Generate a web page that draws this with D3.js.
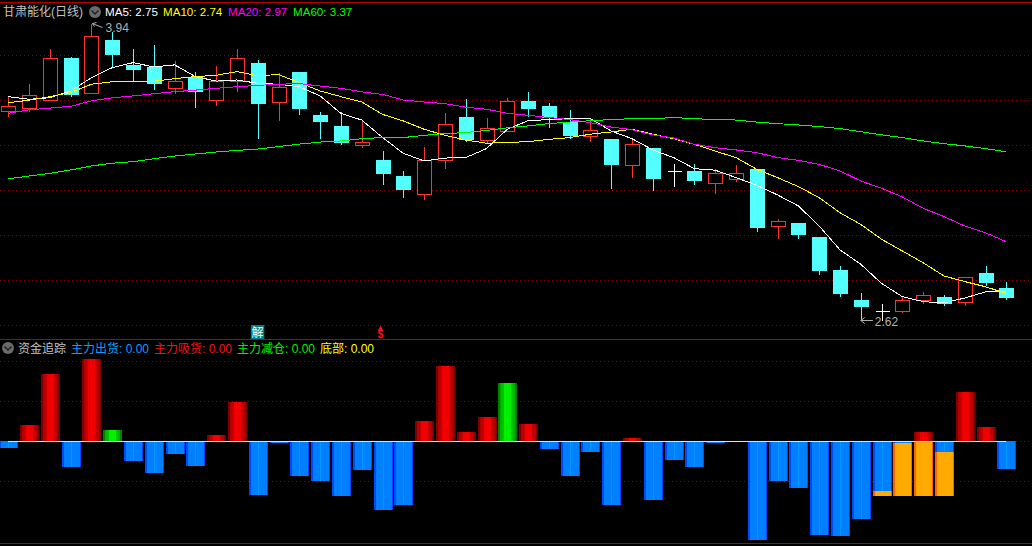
<!DOCTYPE html>
<html lang="zh">

<head>
    <meta charset="UTF-8" />
    <title>甘肃能化(日线)</title>
    <script src="https://d3js.org/d3.v7.min.js"></script>
    <style>
        html, body {
            margin: 0;
            padding: 0;
            background: #000;
            overflow: hidden;
        }

        svg {
            display: block;
        }

        text {
            font-family: "Liberation Sans", "Noto Sans CJK SC", sans-serif;
            font-size: 11.6px;
        }

        .cjk {
            font-size: 12px;
        }

        .grid line {
            stroke: #8c0000;
            stroke-dasharray: 1 3;
            shape-rendering: crispEdges;
        }

        .grid path {
            display: none;
        }

        .crisp {
            shape-rendering: crispEdges;
        }
    </style>
</head>

<body>
    <svg id="chart" width="1032" height="546"></svg>

    <script>
        // K-line
        const opens = [3.551, 3.561, 3.600, 3.785, 3.631, 3.864, 3.754, 3.745, 3.653, 3.702, 3.600, 3.681, 3.763, 3.591, 3.723, 3.532, 3.483, 3.400, 3.332, 3.261, 3.178, 3.329, 3.523, 3.422, 3.462, 3.594, 3.572, 3.501, 3.440, 3.425, 3.311, 3.385, 3.282, 3.283, 3.231, 3.248, 3.292, 3.040, 3.052, 2.990, 2.843, 2.710, 2.661, 2.658, 2.708, 2.723, 2.698, 2.830, 2.763];
        const closes = [3.572, 3.622, 3.784, 3.625, 3.881, 3.803, 3.736, 3.674, 3.681, 3.636, 3.681, 3.784, 3.585, 3.655, 3.563, 3.505, 3.410, 3.411, 3.274, 3.203, 3.332, 3.490, 3.425, 3.473, 3.593, 3.563, 3.523, 3.443, 3.464, 3.314, 3.402, 3.252, 3.282, 3.243, 3.273, 3.273, 3.034, 3.059, 3.003, 2.843, 2.741, 2.683, 2.661, 2.708, 2.730, 2.696, 2.810, 2.790, 2.723];
        const highs = [3.618, 3.670, 3.828, 3.793, 3.940, 3.904, 3.825, 3.843, 3.772, 3.723, 3.750, 3.828, 3.776, 3.719, 3.723, 3.545, 3.545, 3.507, 3.372, 3.283, 3.390, 3.541, 3.603, 3.519, 3.608, 3.634, 3.585, 3.554, 3.514, 3.425, 3.425, 3.385, 3.314, 3.314, 3.295, 3.310, 3.292, 3.070, 3.052, 2.990, 2.861, 2.741, 2.692, 2.726, 2.745, 2.732, 2.810, 2.861, 2.790];
        const lows = [3.524, 3.547, 3.600, 3.613, 3.631, 3.744, 3.681, 3.643, 3.625, 3.563, 3.572, 3.636, 3.425, 3.505, 3.532, 3.425, 3.401, 3.385, 3.221, 3.163, 3.156, 3.292, 3.413, 3.410, 3.462, 3.523, 3.474, 3.425, 3.412, 3.203, 3.252, 3.194, 3.212, 3.221, 3.181, 3.234, 3.012, 2.981, 2.981, 2.821, 2.723, 2.620, 2.620, 2.652, 2.692, 2.683, 2.683, 2.772, 2.710];

        // moving averages
        const ma5 = [3.615, 3.603, 3.610, 3.640, 3.699, 3.744, 3.766, 3.747, 3.756, 3.704, 3.684, 3.689, 3.674, 3.670, 3.659, 3.618, 3.540, 3.511, 3.433, 3.363, 3.329, 3.342, 3.344, 3.384, 3.470, 3.508, 3.513, 3.517, 3.517, 3.462, 3.428, 3.378, 3.344, 3.295, 3.288, 3.255, 3.221, 3.178, 3.129, 3.040, 2.934, 2.870, 2.785, 2.726, 2.704, 2.698, 2.720, 2.747, 2.750];
        const ma10 = [3.588, 3.599, 3.615, 3.633, 3.670, 3.681, 3.681, 3.683, 3.695, 3.704, 3.710, 3.726, 3.708, 3.713, 3.677, 3.640, 3.615, 3.591, 3.536, 3.507, 3.470, 3.443, 3.422, 3.408, 3.411, 3.415, 3.425, 3.433, 3.448, 3.458, 3.470, 3.448, 3.428, 3.403, 3.373, 3.344, 3.292, 3.255, 3.215, 3.166, 3.099, 3.047, 2.981, 2.929, 2.877, 2.818, 2.793, 2.770, 2.740];
        const ma20 = [3.541, 3.556, 3.564, 3.572, 3.596, 3.610, 3.618, 3.628, 3.637, 3.644, 3.652, 3.659, 3.665, 3.670, 3.673, 3.662, 3.652, 3.636, 3.625, 3.600, 3.591, 3.584, 3.568, 3.559, 3.541, 3.532, 3.522, 3.513, 3.499, 3.480, 3.468, 3.445, 3.431, 3.403, 3.388, 3.378, 3.366, 3.344, 3.332, 3.314, 3.285, 3.240, 3.208, 3.169, 3.119, 3.082, 3.040, 3.010, 2.970];
        const ma60 = [3.250, 3.262, 3.274, 3.289, 3.307, 3.319, 3.326, 3.339, 3.351, 3.360, 3.369, 3.376, 3.382, 3.393, 3.404, 3.413, 3.418, 3.428, 3.433, 3.433, 3.443, 3.451, 3.455, 3.465, 3.476, 3.485, 3.495, 3.502, 3.508, 3.513, 3.517, 3.517, 3.522, 3.517, 3.513, 3.511, 3.502, 3.495, 3.489, 3.482, 3.473, 3.459, 3.445, 3.433, 3.418, 3.406, 3.396, 3.384, 3.370];

        // 资金追踪 panel
        const outflow = [-0.167, 0, 0, -0.642, 0, 0, -0.492, -0.792, -0.317, -0.617, 0, 0, -1.342, -0.042, -0.867, -0.992, -1.367, -0.717, -1.717, -1.592, 0, 0, 0, 0, 0, 0, -0.192, -0.867, -0.267, -1.592, 0, -1.467, -0.467, -0.642, -0.042, 0, -2.467, -0.992, -1.167, -2.342, -2.367, -1.942, -1.242, -0.042, 0, -0.267, 0, 0, -0.692];
        const inflow = [0, 0.408, 1.683, 0, 2.058, 0, 0, 0, 0, 0, 0.158, 0.983, 0, 0, 0, 0, 0, 0, 0, 0, 0.508, 1.883, 0.233, 0.608, 0, 0.433, 0, 0, 0, 0, 0.083, 0, 0, 0, 0, 0, 0, 0, 0, 0, 0, 0, 0, 0, 0.233, 0, 1.233, 0.358, 0];
        const reduce = [0, 0, 0, 0, 0, 0.283, 0, 0, 0, 0, 0, 0, 0, 0, 0, 0, 0, 0, 0, 0, 0, 0, 0, 0, 1.458, 0, 0, 0, 0, 0, 0, 0, 0, 0, 0, 0, 0, 0, 0, 0, 0, 0, 0, 0, 0, 0, 0, 0, 0];
        const bottomIdx = [42, 43, 44, 45];
        const bottomVal = -1.367;

        const priceTicks = [3.8, 3.6, 3.4, 3.2, 3.0, 2.8, 2.6];
        const flowTicks = [2, 1, 0, -1];

        const maLegend = [
            { label: "MA5: 2.75", color: "#ffffff", x: 105 },
            { label: "MA10: 2.74", color: "#ffff00", x: 163 },
            { label: "MA20: 2.97", color: "#ff00ff", x: 228 },
            { label: "MA60: 3.37", color: "#00ff00", x: 293 }
        ];
        const flowLegend = [
            { label: "主力出货: 0.00", color: "#109cff", x: 71 },
            { label: "主力吸货: 0.00", color: "#f01414", x: 154 },
            { label: "主力减仓: 0.00", color: "#00f000", x: 237 },
            { label: "底部: 0.00", color: "#ffff00", x: 320 }
        ];

        const W = 1032;
        const svg = d3.select("#chart");
        const defs = svg.append("defs");

        // bars are shaded across their width
        function gradient(id, stops) {
            const g = defs.append("linearGradient").attr("id", id);
            stops.forEach(s => g.append("stop").attr("offset", s[0]).attr("stop-color", s[1]));
        }
        gradient("redBar", [[0, "#800000"], [0.13, "#800000"], [0.13, "#b00000"], [0.3, "#c80000"], [0.3, "#f00000"], [0.7, "#f00000"], [0.7, "#c80000"], [0.87, "#b00000"], [0.87, "#800000"], [1, "#800000"]]);
        gradient("greenBar", [[0, "#008000"], [0.13, "#008000"], [0.13, "#00b000"], [0.3, "#00c800"], [0.3, "#00f000"], [0.7, "#00f000"], [0.7, "#00c800"], [0.87, "#00b000"], [0.87, "#008000"], [1, "#008000"]]);
        gradient("blueBar", [[0, "#0048ff"], [0.1, "#0048ff"], [0.1, "#0080ff"], [0.46, "#0080ff"], [0.46, "#0098ff"], [0.54, "#0098ff"], [0.54, "#0080ff"], [0.94, "#0080ff"], [0.94, "#0048ff"], [1, "#0048ff"]]);
        gradient("orangeBar", [[0, "#ff6000"], [0.08, "#ff6000"], [0.08, "#ffaa00"], [0.94, "#ffaa00"], [0.94, "#ff6000"], [1, "#ff6000"]]);

        const x = d3.scaleLinear().domain([0, 48]).range([8.3, 1006.3]);
        const y = d3.scaleLinear().domain([3.8, 2.6]).range([55, 325]);
        const yFlow = d3.scaleLinear().domain([2, -2]).range([361, 521]);

        const idx = d3.range(opens.length);

        // frame lines
        svg.selectAll(".frame")
            .data([2.5, 339.5, 543.5])
            .join("line")
            .attr("class", "crisp")
            .attr("x1", 0).attr("x2", W)
            .attr("y1", d => d).attr("y2", d => d)
            .attr("stroke", "#b40000");

        // dotted grids
        svg.append("g").attr("class", "grid")
            .call(d3.axisLeft(y.copy().rangeRound([55, 325])).tickValues(priceTicks).tickSize(-W).tickFormat(""));
        svg.append("g").attr("class", "grid")
            .call(d3.axisLeft(yFlow).tickValues(flowTicks).tickSize(-W).tickFormat(""));

        // candles
        const candle = svg.append("g").attr("class", "crisp").selectAll("g").data(idx).join("g");
        const colorOf = i => closes[i] === opens[i] ? "#ffffff" : closes[i] > opens[i] ? "#ff3232" : "#54ffff";
        const px = i => Math.round(x(i));
        candle.append("line")
            .attr("x1", i => px(i) + 0.5).attr("x2", i => px(i) + 0.5)
            .attr("y1", i => y(highs[i])).attr("y2", i => y(lows[i]))
            .attr("stroke", colorOf);
        candle.append("rect")
            .filter(i => closes[i] !== opens[i])
            .attr("x", i => px(i) - 7 + 0.5)
            .attr("width", 14)
            .attr("y", i => y(Math.max(opens[i], closes[i])))
            .attr("height", i => Math.abs(y(opens[i]) - y(closes[i])))
            .attr("fill", i => closes[i] > opens[i] ? "#000" : "#54ffff")
            .attr("stroke", colorOf);
        candle.filter(i => closes[i] === opens[i]).append("line")
            .attr("x1", i => px(i) - 6.5).attr("x2", i => px(i) + 7.5)
            .attr("y1", i => y(closes[i])).attr("y2", i => y(closes[i]))
            .attr("stroke", "#ffffff");

        // MA lines
        const maLine = d3.line().x((d, i) => x(i)).y(d => y(d));
        [[ma5, "#ffffff"], [ma10, "#ffff00"], [ma20, "#ff00ff"], [ma60, "#00ff00"]].forEach(m => {
            svg.append("path").datum(m[0])
                .attr("class", "crisp")
                .attr("fill", "none")
                .attr("stroke", m[1])
                .attr("d", maLine);
        });

        // high / low notes
        const iHigh = d3.maxIndex(highs), iLow = d3.minIndex(lows);
        svg.append("path")
            .attr("d", `M${x(iHigh) + 11},${y(highs[iHigh]) + 4}L${x(iHigh) + 1},${y(highs[iHigh])}M${x(iHigh) + 1},${y(highs[iHigh])}l4,-1M${x(iHigh) + 1},${y(highs[iHigh])}l2,3`)
            .attr("stroke", "#b0b0b0").attr("fill", "none");
        svg.append("text").attr("x", x(iHigh) + 14).attr("y", y(highs[iHigh]) + 8.5)
            .attr("fill", "#b0b0b0").style("font-size", "12px").text(highs[iHigh].toFixed(2));
        svg.append("path")
            .attr("d", `M${x(iLow)},${y(lows[iLow])}h12M${x(iLow)},${y(lows[iLow])}l4,-3M${x(iLow)},${y(lows[iLow])}l4,3`)
            .attr("stroke", "#b0b0b0").attr("fill", "none");
        svg.append("text").attr("x", x(iLow) + 14).attr("y", y(lows[iLow]) + 5.5)
            .attr("fill", "#b0b0b0").style("font-size", "12px").text(lows[iLow].toFixed(2));

        // signal marks above the lower panel
        svg.append("rect").attr("x", x(12) - 7).attr("y", 325).attr("width", 13.5).attr("height", 14).attr("fill", "#008080");
        svg.append("text").attr("class", "cjk").attr("x", x(12) - 0.3).attr("y", 337).attr("text-anchor", "middle").attr("fill", "#ffffff").text("解");
        svg.append("path").attr("d", d3.symbol(d3.symbolTriangle, 14)()).attr("transform", `translate(${x(18) - 2},329)`).attr("fill", "#ff1010");
        svg.append("text").attr("x", x(18) - 2).attr("y", 338).attr("text-anchor", "middle").attr("fill", "#ff1010")
            .style("font-size", "10px").style("font-weight", "bold").text("$");

        // flow bars
        const barW = 19;
        function bars(values, fill) {
            svg.append("g").attr("class", "crisp").selectAll("rect")
                .data(idx.filter(i => values[i] !== 0))
                .join("rect")
                .attr("x", i => px(i) - 9)
                .attr("width", barW)
                .attr("y", i => Math.min(yFlow(values[i]), yFlow(0)))
                .attr("height", i => Math.abs(yFlow(values[i]) - yFlow(0)))
                .attr("fill", fill);
        }
        bars(outflow, "url(#blueBar)");
        bars(inflow, "url(#redBar)");
        bars(reduce, "url(#greenBar)");
        svg.append("g").attr("class", "crisp").selectAll("rect")
            .data(bottomIdx)
            .join("rect")
            .attr("x", i => px(i) - 9)
            .attr("width", barW)
            .attr("y", i => yFlow(outflow[i]))
            .attr("height", i => yFlow(bottomVal) - yFlow(outflow[i]))
            .attr("fill", "url(#orangeBar)");

        // zero line
        svg.append("line").attr("class", "crisp")
            .attr("x1", x(0)).attr("x2", x(48))
            .attr("y1", yFlow(0) + 0.5).attr("y2", yFlow(0) + 0.5)
            .attr("stroke", "#ffff00");

        // headers
        function chevron(cx, cy) {
            svg.append("circle").attr("cx", cx).attr("cy", cy).attr("r", 6).attr("fill", "#6a6a6a");
            svg.append("path").attr("d", `M${cx - 3.5},${cy - 1.5}L${cx},${cy + 2}L${cx + 3.5},${cy - 1.5}`)
                .attr("fill", "none").attr("stroke", "#222").attr("stroke-width", 1.5);
        }
        svg.append("text").attr("class", "cjk").attr("x", 3).attr("y", 16).attr("fill", "#c0c0c0").text("甘肃能化(日线)");
        chevron(95, 12);
        svg.selectAll(".maLegend").data(maLegend).join("text")
            .attr("x", d => d.x).attr("y", 16).attr("fill", d => d.color).text(d => d.label);

        chevron(8, 348);
        svg.append("text").attr("class", "cjk").attr("x", 18).attr("y", 353).attr("fill", "#c0c0c0").text("资金追踪");
        svg.selectAll(".flowLegend").data(flowLegend).join("text")
            .attr("class", "cjk")
            .attr("x", d => d.x).attr("y", 353).attr("fill", d => d.color).text(d => d.label);
    </script>
</body>

</html>
